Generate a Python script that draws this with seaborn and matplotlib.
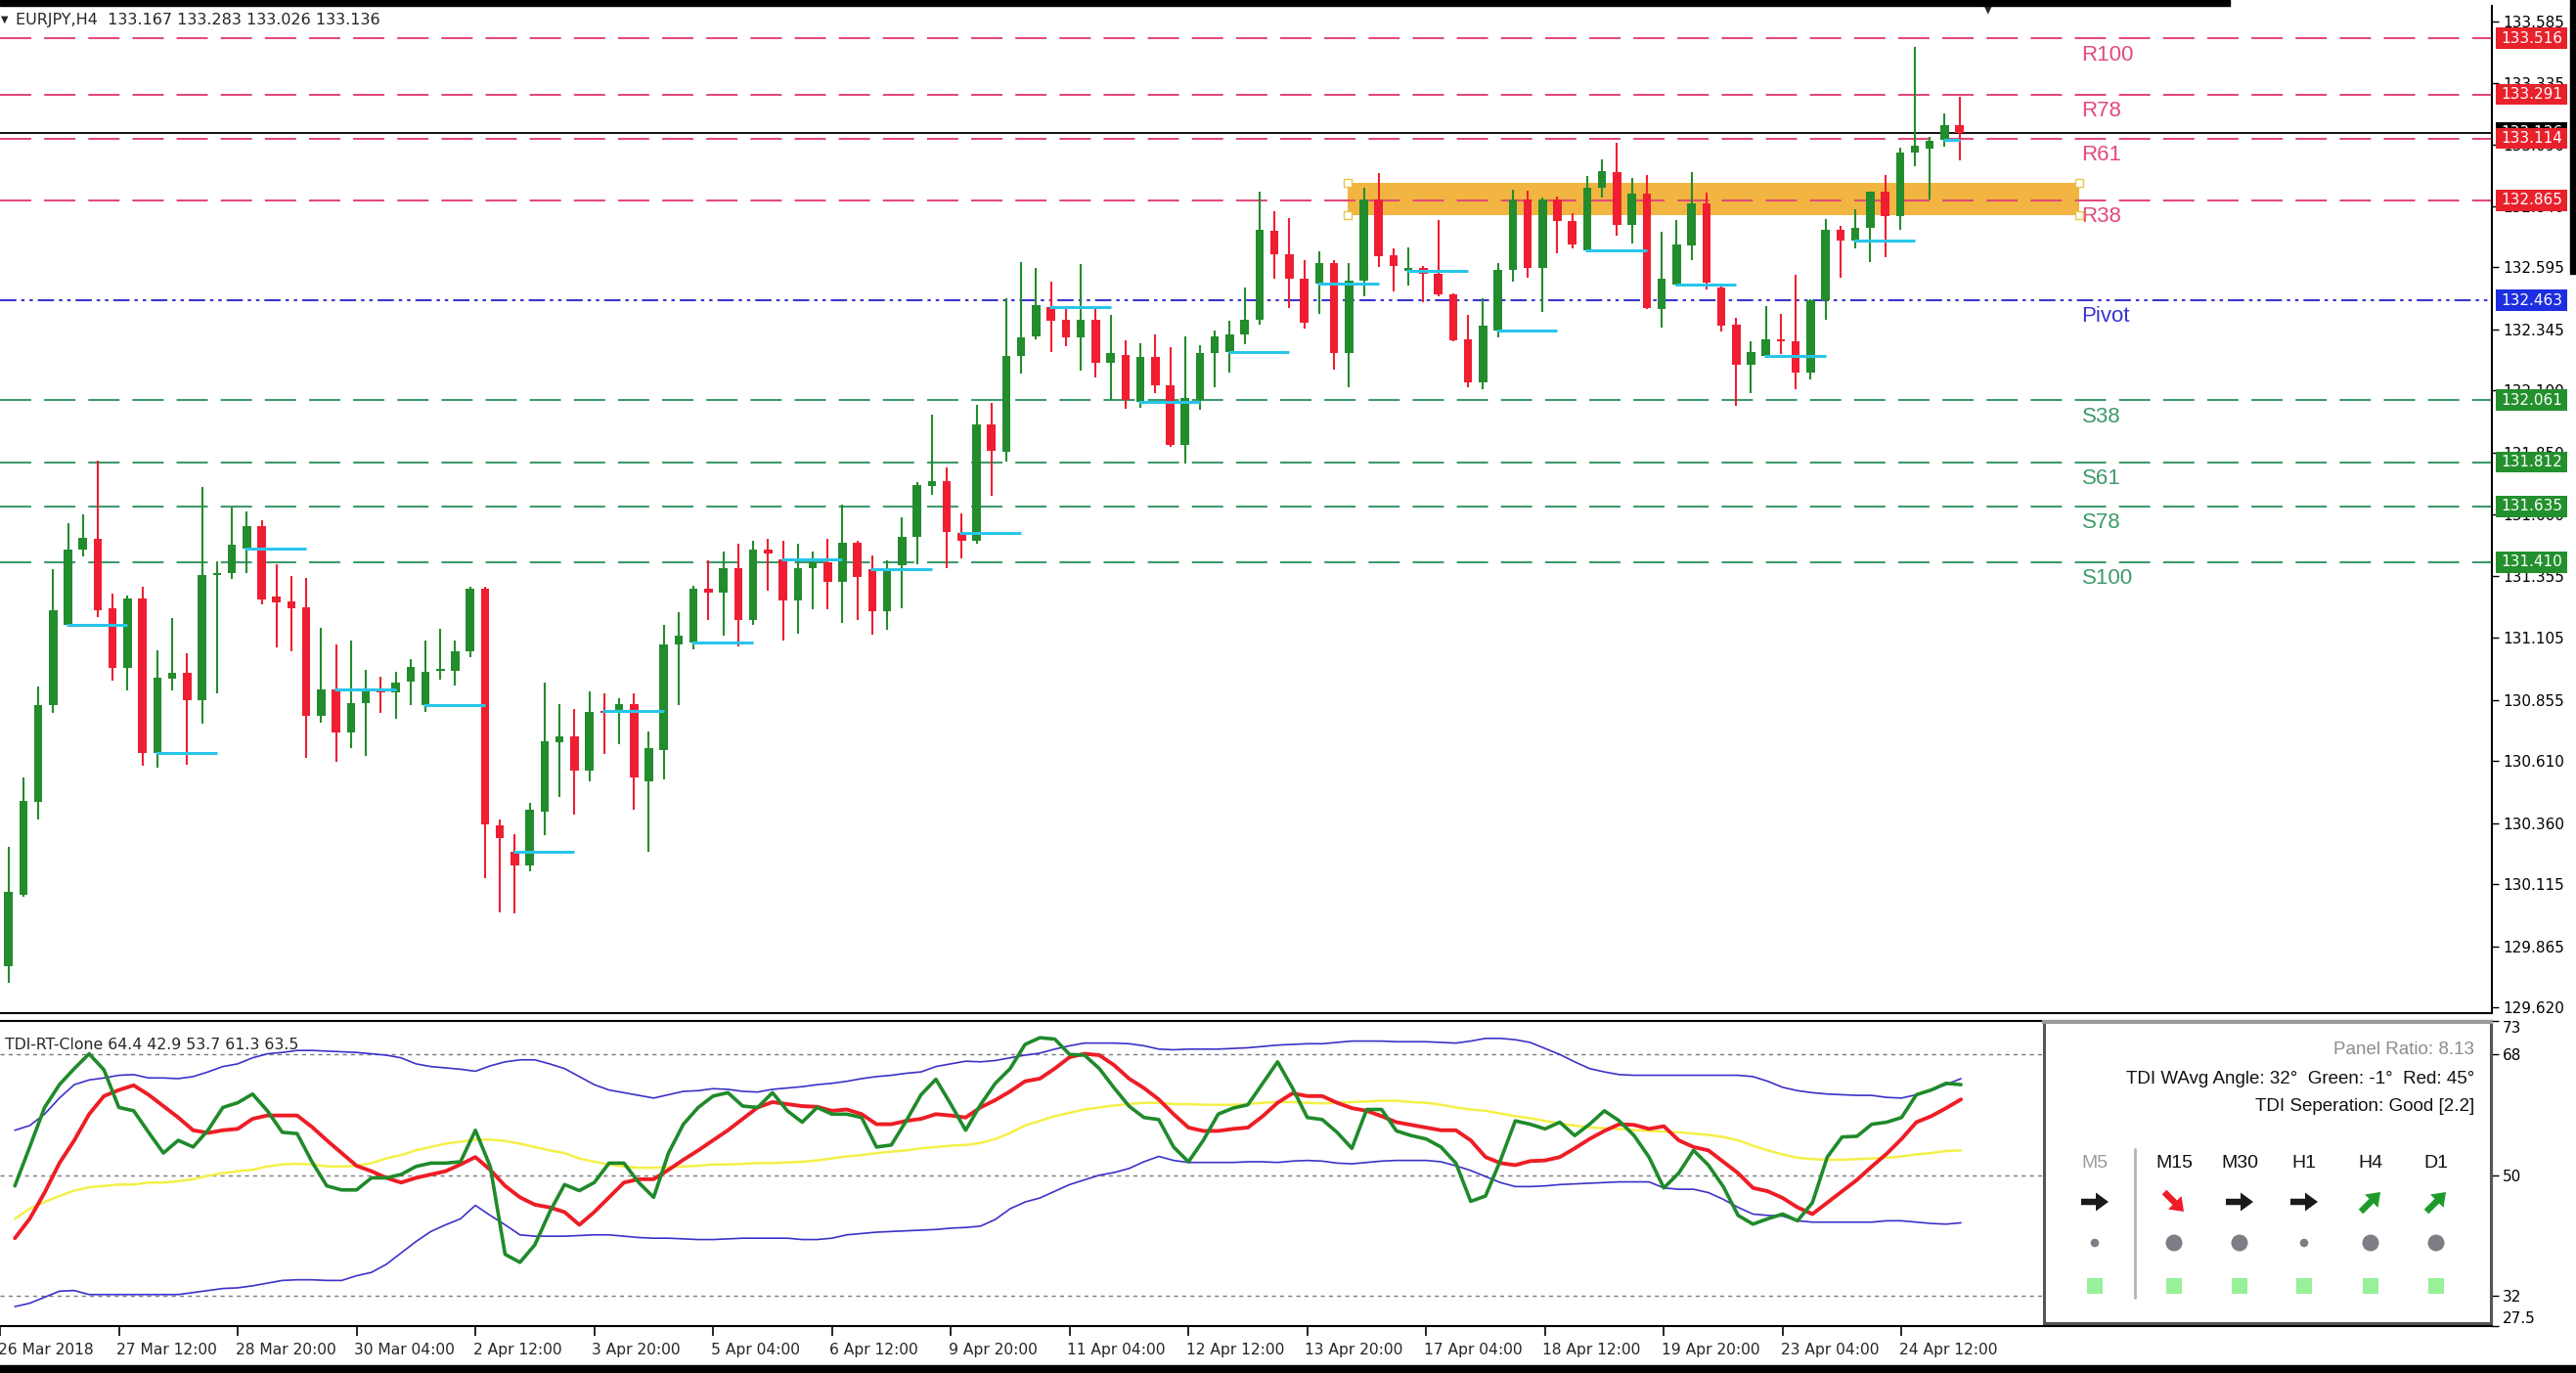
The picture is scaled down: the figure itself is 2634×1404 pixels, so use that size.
import numpy as np
import pandas as pd
import matplotlib
matplotlib.use("Agg")
import matplotlib.pyplot as plt
import seaborn as sns
from matplotlib.patches import Rectangle, FancyArrow
from matplotlib import transforms

sns.set_theme(style="white")
plt.rcParams['font.family'] = ['DejaVu Sans']
plt.rcParams['lines.scale_dashes'] = False

# ------------------------------------------------------------------
# Data: EURJPY H4 candles (bar 1 = 26 Mar 08:00 ... bar 132 = 25 Apr 04:00)
# ------------------------------------------------------------------
bars = np.arange(1, 133)

opens = [129.784, 130.072, 130.447, 130.833, 131.157, 131.461, 131.502, 131.226, 130.984, 131.264,
         130.641, 130.940, 130.965, 130.853, 131.359, 131.364, 131.466, 131.556, 131.272, 131.252,
         131.228, 130.792, 130.899, 130.726, 130.841, 130.899, 130.886, 130.928, 130.833, 130.973,
         130.973, 131.052, 131.302, 130.351, 130.245, 130.190, 130.408, 130.685, 130.709, 130.573,
         130.812, 130.808, 130.838, 130.528, 130.655, 131.080, 131.088, 131.303, 131.286, 131.385,
         131.179, 131.459, 131.421, 131.256, 131.385, 131.410, 131.331, 131.489, 131.380, 131.212,
         131.398, 131.512, 131.715, 131.736, 131.528, 131.497, 131.962, 131.855, 132.240, 132.319,
         132.435, 132.384, 132.314, 132.384, 132.210, 132.243, 132.054, 132.235, 132.120, 131.880,
         132.062, 132.251, 132.256, 132.326, 132.386, 132.741, 132.649, 132.551, 132.530, 132.613,
         132.251, 132.541, 132.870, 132.643, 132.580, 132.591, 132.571, 132.485, 132.306, 132.132,
         132.343, 132.585, 132.870, 132.591, 132.870, 132.782, 132.663, 132.917, 132.978, 132.766,
         132.890, 132.426, 132.525, 132.684, 132.854, 132.513, 132.364, 132.203, 132.240, 132.306,
         132.298, 132.173, 132.464, 132.746, 132.704, 132.754, 132.898, 132.800, 133.058, 133.074,
         133.110, 133.167]
highs = [130.263, 130.545, 130.910, 131.380, 131.568, 131.602, 131.819, 131.282, 131.277, 131.310,
         131.055, 131.183, 131.042, 131.711, 131.413, 131.630, 131.614, 131.578, 131.400, 131.356,
         131.348, 131.145, 131.080, 131.096, 130.976, 130.948, 130.970, 131.019, 131.096, 131.142,
         131.096, 131.310, 131.310, 130.376, 130.314, 130.442, 130.927, 130.838, 130.821, 130.891,
         130.882, 130.861, 130.882, 130.729, 131.159, 131.209, 131.314, 131.418, 131.454, 131.484,
         131.497, 131.505, 131.497, 131.484, 131.451, 131.505, 131.640, 131.495, 131.438, 131.418,
         131.591, 131.731, 132.003, 131.789, 131.604, 132.044, 132.052, 132.472, 132.618, 132.593,
         132.538, 132.430, 132.609, 132.435, 132.405, 132.303, 132.289, 132.326, 132.273, 132.319,
         132.281, 132.342, 132.381, 132.513, 132.898, 132.823, 132.795, 132.626, 132.658, 132.624,
         132.613, 132.915, 132.974, 132.671, 132.674, 132.600, 132.784, 132.490, 132.405, 132.472,
         132.613, 132.908, 132.903, 132.878, 132.880, 132.812, 132.961, 133.031, 133.097, 132.956,
         132.965, 132.737, 132.784, 132.978, 132.895, 132.522, 132.394, 132.298, 132.439, 132.409,
         132.566, 132.469, 132.790, 132.762, 132.829, 132.900, 132.965, 133.077, 133.480, 133.120,
         133.216, 133.283]
lows = [129.718, 130.065, 130.373, 130.805, 131.149, 131.431, 131.187, 130.932, 130.894, 130.590,
        130.583, 130.894, 130.595, 130.762, 130.882, 131.343, 131.364, 131.241, 131.068, 131.052,
        130.623, 130.764, 130.608, 130.660, 130.631, 130.803, 130.780, 130.833, 130.808, 130.937,
        130.915, 131.027, 130.139, 130.000, 129.997, 130.166, 130.311, 130.467, 130.393, 130.528,
        130.638, 130.676, 130.413, 130.245, 130.536, 130.836, 131.060, 131.176, 131.113, 131.069,
        131.159, 131.294, 131.093, 131.121, 131.220, 131.220, 131.167, 131.179, 131.118, 131.136,
        131.223, 131.401, 131.682, 131.385, 131.426, 131.484, 131.675, 131.813, 132.170, 132.306,
        132.253, 132.278, 132.181, 132.152, 132.062, 132.027, 132.032, 132.090, 131.875, 131.805,
        132.024, 132.112, 132.173, 132.286, 132.364, 132.550, 132.430, 132.351, 132.410, 132.185,
        132.115, 132.477, 132.596, 132.497, 132.522, 132.455, 132.480, 132.298, 132.115, 132.104,
        132.314, 132.538, 132.555, 132.417, 132.651, 132.671, 132.655, 132.878, 132.721, 132.691,
        132.426, 132.353, 132.522, 132.625, 132.505, 132.339, 132.037, 132.090, 132.231, 132.248,
        132.107, 132.144, 132.386, 132.555, 132.671, 132.618, 132.635, 132.746, 133.003, 132.868,
        133.080, 133.026]
closes = [130.082, 130.450, 130.836, 131.216, 131.461, 131.507, 131.216, 130.984, 131.264, 130.641,
          130.945, 130.965, 130.853, 131.359, 131.367, 131.479, 131.556, 131.260, 131.249, 131.224,
          130.792, 130.899, 130.726, 130.841, 130.899, 130.886, 130.924, 130.989, 130.970, 130.982,
          131.052, 131.302, 130.356, 130.299, 130.190, 130.413, 130.690, 130.709, 130.573, 130.808,
          130.803, 130.838, 130.545, 130.660, 131.077, 131.116, 131.303, 131.286, 131.385, 131.179,
          131.459, 131.443, 131.256, 131.385, 131.410, 131.331, 131.489, 131.349, 131.212, 131.380,
          131.512, 131.718, 131.736, 131.530, 131.497, 131.962, 131.858, 132.240, 132.314, 132.442,
          132.381, 132.314, 132.384, 132.210, 132.251, 132.062, 132.235, 132.120, 131.880, 132.069,
          132.251, 132.317, 132.326, 132.386, 132.746, 132.649, 132.551, 132.372, 132.613, 132.251,
          132.541, 132.870, 132.641, 132.600, 132.591, 132.571, 132.485, 132.303, 132.132, 132.362,
          132.585, 132.870, 132.591, 132.870, 132.782, 132.688, 132.917, 132.983, 132.766, 132.890,
          132.430, 132.550, 132.688, 132.854, 132.535, 132.361, 132.203, 132.256, 132.306, 132.298,
          132.173, 132.464, 132.746, 132.704, 132.754, 132.898, 132.800, 133.058, 133.086, 133.105,
          133.167, 133.136]

# bars that open a new trading day (00:00)
day_start_bars = [5, 11, 17, 23, 29, 35, 41, 47, 53, 59, 65, 71, 77, 83, 89, 95,
                  101, 107, 113, 119, 125, 131]

# Fibonacci pivot levels
level_names = ["R100", "R78", "R61", "R38", "Pivot", "S38", "S61", "S78", "S100"]
level_values = [133.516, 133.291, 133.114, 132.865, 132.463, 132.061, 131.812, 131.635, 131.410]

# supply zone rectangle (bar range, price range)
zone_bars = (90.9, 140.0)
zone_prices = (132.805, 132.935)

price_ticks = [129.620, 129.865, 130.115, 130.360, 130.610, 130.855, 131.105, 131.355, 131.600,
               131.850, 132.100, 132.345, 132.595, 132.840, 133.090, 133.335, 133.585]

xlabel_bars = [0, 8, 16, 24, 32, 40, 48, 56, 64, 72, 80, 88, 96, 104, 112, 120, 128]
xlabel_text = ["26 Mar 2018", "27 Mar 12:00", "28 Mar 20:00", "30 Mar 04:00", "2 Apr 12:00",
               "3 Apr 20:00", "5 Apr 04:00", "6 Apr 12:00", "9 Apr 20:00", "11 Apr 04:00",
               "12 Apr 12:00", "13 Apr 20:00", "17 Apr 04:00", "18 Apr 12:00", "19 Apr 20:00",
               "23 Apr 04:00", "24 Apr 12:00"]

# TDI indicator lines
tdi_green = [48.4, 54.2, 60.1, 63.5, 65.9, 68.1, 65.7, 60.1, 59.6, 56.4,
             53.3, 55.2, 54.2, 56.7, 60.1, 60.8, 62.1, 59.6, 56.4, 56.2,
             52.0, 48.4, 47.8, 47.8, 49.6, 49.6, 50.1, 51.3, 51.8, 51.8,
             52.0, 56.7, 51.3, 38.2, 37.0, 39.6, 44.5, 48.6, 47.7, 48.9,
             51.8, 51.8, 48.9, 46.7, 53.3, 57.6, 60.1, 61.8, 62.3, 60.3,
             60.1, 62.3, 59.6, 57.9, 60.1, 59.1, 59.1, 58.6, 54.2, 54.5,
             58.1, 62.0, 64.3, 60.6, 56.7, 60.5, 63.7, 65.9, 69.5, 70.5,
             70.3, 68.0, 67.9, 65.9, 63.0, 60.3, 58.6, 58.3, 54.2, 52.0,
             55.2, 59.1, 60.0, 60.5, 63.7, 66.9, 63.0, 58.6, 58.3, 56.4,
             54.0, 59.8, 59.8, 56.6, 55.9, 55.4, 54.2, 51.8, 46.1, 46.9,
             52.2, 58.1, 57.6, 56.9, 57.9, 55.9, 57.6, 59.6, 58.1, 55.9,
             52.7, 48.1, 50.3, 53.7, 51.5, 48.3, 44.0, 42.7, 43.5, 44.2,
             43.2, 45.9, 52.7, 55.7, 55.8, 57.6, 57.9, 58.6, 62.0, 62.7,
             63.7, 63.5]
tdi_red = [40.6, 43.5, 47.4, 51.8, 55.2, 59.1, 61.8, 62.7, 63.4, 62.0,
           60.3, 58.6, 56.7, 56.3, 56.7, 56.9, 58.4, 58.9, 58.9, 58.9,
           57.2, 55.2, 53.3, 51.4, 50.6, 49.6, 48.9, 49.6, 50.1, 50.6,
           51.6, 52.7, 50.8, 48.4, 46.7, 45.6, 45.2, 44.5, 42.6, 44.5,
           46.7, 48.9, 49.4, 49.4, 50.8, 52.3, 53.7, 55.2, 56.7, 58.4,
           60.1, 60.9, 60.6, 60.3, 60.2, 59.6, 59.8, 59.1, 57.6, 57.6,
           58.1, 58.4, 59.1, 58.9, 58.6, 60.1, 61.2, 62.5, 64.0, 64.4,
           65.9, 67.6, 68.1, 67.9, 66.4, 64.4, 63.0, 61.3, 59.1, 57.1,
           56.6, 56.6, 56.9, 57.1, 58.8, 60.8, 62.2, 61.8, 61.8, 60.8,
           60.0, 59.6, 58.8, 57.9, 57.5, 57.1, 56.7, 56.7, 55.2, 52.7,
           51.8, 51.5, 52.1, 52.2, 52.7, 54.0, 55.4, 56.6, 57.6, 57.5,
           56.9, 57.3, 55.2, 54.2, 53.7, 52.0, 50.3, 48.1, 47.6, 46.6,
           45.2, 44.2, 45.9, 47.6, 49.3, 51.3, 53.2, 55.4, 57.9, 58.8,
           60.0, 61.3]
tdi_yellow = [43.5, 45.0, 46.0, 46.9, 47.7, 48.2, 48.4, 48.6, 48.6, 48.9,
              48.9, 49.1, 49.4, 49.9, 50.3, 50.6, 50.8, 51.3, 51.6, 51.7,
              51.6, 51.3, 51.3, 51.4, 51.8, 52.5, 53.0, 53.7, 54.2, 54.7,
              55.0, 55.3, 55.3, 55.1, 54.7, 54.2, 53.7, 53.3, 52.5, 52.0,
              51.6, 51.3, 51.1, 51.1, 51.2, 51.3, 51.4, 51.6, 51.6, 51.7,
              51.8, 51.8, 51.9, 52.0, 52.2, 52.5, 52.8, 53.0, 53.3, 53.5,
              53.7, 54.0, 54.2, 54.4, 54.5, 54.8, 55.4, 56.3, 57.4, 58.1,
              58.8, 59.3, 59.8, 60.1, 60.4, 60.6, 60.8, 60.8, 60.6, 60.6,
              60.5, 60.5, 60.5, 60.6, 60.8, 60.9, 60.9, 60.8, 60.7, 60.8,
              60.9, 61.0, 61.1, 61.1, 60.9, 60.8, 60.5, 60.1, 59.8, 59.6,
              59.2, 58.8, 58.5, 58.1, 57.7, 57.4, 57.1, 57.0, 56.9, 56.7,
              56.6, 56.5, 56.4, 56.2, 56.0, 55.7, 55.2, 54.4, 53.7, 53.1,
              52.6, 52.4, 52.3, 52.3, 52.4, 52.5, 52.6, 52.8, 53.1, 53.3,
              53.6, 53.7]
tdi_upper = [56.7, 57.4, 59.1, 61.5, 63.5, 64.2, 64.5, 64.9, 65.0, 64.5,
             64.5, 64.4, 64.7, 65.4, 66.2, 66.6, 67.5, 68.1, 68.3, 68.6,
             68.6, 68.5, 68.4, 68.3, 68.1, 67.9, 67.5, 66.6, 66.2, 66.0,
             65.8, 65.5, 66.3, 66.9, 67.2, 67.2, 66.6, 65.9, 64.7, 63.5,
             62.7, 62.3, 61.9, 61.5, 62.0, 62.5, 62.6, 62.9, 62.8, 62.5,
             62.4, 62.8, 63.0, 63.2, 63.5, 63.7, 64.0, 64.4, 64.7, 64.9,
             65.2, 65.4, 66.2, 66.6, 67.0, 66.9, 67.1, 67.5, 67.9, 68.2,
             68.8, 69.3, 69.7, 69.7, 69.7, 69.6, 69.3, 68.8, 68.7, 68.8,
             68.8, 68.8, 68.9, 69.0, 69.2, 69.4, 69.5, 69.6, 69.6, 69.8,
             70.0, 70.0, 70.0, 69.9, 69.9, 69.9, 69.8, 69.7, 70.0, 70.4,
             70.4, 70.2, 69.8, 68.9, 68.0, 66.9, 65.9, 65.4, 65.0, 64.9,
             64.9, 64.9, 64.9, 64.9, 64.9, 64.9, 64.9, 64.7, 64.0, 63.1,
             62.6, 62.3, 62.1, 62.0, 61.9, 61.9, 61.6, 61.5, 62.0, 62.7,
             63.5, 64.4]
tdi_lower = [30.4, 30.9, 31.8, 32.7, 32.8, 32.2, 32.2, 32.2, 32.2, 32.2,
             32.2, 32.2, 32.5, 32.8, 33.1, 33.2, 33.5, 33.9, 34.3, 34.4,
             34.4, 34.3, 34.3, 35.0, 35.5, 36.7, 38.4, 40.1, 41.6, 42.6,
             43.5, 45.5, 44.0, 42.6, 41.1, 40.9, 40.9, 40.9, 41.0, 41.1,
             41.1, 40.9, 40.7, 40.6, 40.6, 40.5, 40.4, 40.4, 40.5, 40.6,
             40.6, 40.6, 40.6, 40.4, 40.4, 40.6, 41.1, 41.3, 41.5, 41.6,
             41.7, 41.8, 41.9, 42.1, 42.2, 42.4, 43.4, 45.0, 46.0, 46.6,
             47.6, 48.6, 49.3, 50.0, 50.4, 51.0, 52.0, 52.8, 52.2, 51.9,
             51.9, 51.9, 51.9, 52.0, 52.0, 51.9, 52.1, 52.2, 52.1, 51.8,
             51.7, 51.9, 52.1, 52.2, 52.2, 52.2, 52.0, 51.4, 50.7, 49.8,
             48.9, 48.3, 48.3, 48.4, 48.6, 48.7, 48.8, 48.9, 49.0, 49.0,
             49.0, 48.1, 47.9, 47.9, 47.4, 46.4, 45.2, 44.2, 44.0, 43.9,
             43.2, 43.0, 43.0, 43.0, 43.0, 43.0, 43.2, 43.2, 43.0, 42.8,
             42.7, 42.9]
tdi_levels = [68, 50, 32]
tdi_ticks = [73, 68, 50, 32, 27.5]

# multi-timeframe dashboard
tf_names = ["M5", "M15", "M30", "H1", "H4", "D1"]
tf_direction = ["flat", "down", "flat", "flat", "up", "up"]
tf_strength = ["small", "big", "big", "small", "big", "big"]
panel_ratio = 8.13
wavg_angle, green_angle, red_angle = 32, -1, 45
separation = ("Good", 2.2)

# ------------------------------------------------------------------
# Styles
# ------------------------------------------------------------------
GREEN = "#238c2d"
RED = "#f01e32"
R_COL = "#e34a78"
S_COL = "#3d9a6a"
P_COL = "#3a34d0"
CYAN = "#29c5ea"
ZONE = "#f2b541"

W, H = 2634, 1404


def fx(px):
    return px / W


def fy(py):
    return 1 - py / H


fig = plt.figure(figsize=(W / 100, H / 100), dpi=100)
fig.patch.set_facecolor("white")

ax = fig.add_axes([0, fy(1036), fx(2548), (1036 - 6) / H])
ax_ind = fig.add_axes([0, fy(1356), fx(2548), (1356 - 1044) / H])

XMIN, XMAX = 0.435, 167.74

# ------------------------------------------------------------------
# Main price panel
# ------------------------------------------------------------------
o = np.array(opens); hi = np.array(highs); lo = np.array(lows); c = np.array(closes)
cols = np.where(c >= o, GREEN, RED)

ax.add_patch(Rectangle((zone_bars[0], zone_prices[0]), zone_bars[1] - zone_bars[0],
                       zone_prices[1] - zone_prices[0], facecolor=ZONE, edgecolor="none", zorder=1))
for zx in zone_bars:
    for zy in zone_prices:
        ax.scatter([zx], [zy], marker="s", s=28, facecolor="white", edgecolor="#e6c84a",
                   linewidth=1, zorder=6)

for name, val in zip(level_names, level_values):
    if name.startswith("R"):
        col, ls = R_COL, (0, (23, 9.5))
    elif name.startswith("S"):
        col, ls = S_COL, (0, (23, 9.5))
    else:
        col, ls = P_COL, (0, (12, 3.6, 2.5, 3.6, 2.5, 3.6))
    ax.axhline(val, color=col, lw=1.5, ls=ls, zorder=2)
    ax.text(140.2, val - 0.066, name, color=col, fontsize=16, family="Liberation Sans",
            ha="left", va="center", zorder=3)

ax.axhline(closes[-1], color="black", lw=1.3, zorder=3)

ax.vlines(bars, lo, hi, colors=cols, lw=1.5, zorder=4)
ax.bar(bars, np.maximum(np.abs(c - o), 0.005), bottom=np.minimum(o, c), width=0.56,
       color=cols, linewidth=0, zorder=5)

for b in day_start_bars:
    ax.hlines(opens[b - 1], b - 0.12, min(b + 4, bars[-1]), colors=CYAN, lw=2.2, zorder=6)

ax.set_xlim(XMIN, XMAX)
ax.set_ylim(129.596, 133.647)
ax.yaxis.tick_right()
ax.set_yticks(price_ticks)
ax.set_yticklabels([f"{v:.3f}" for v in price_ticks], fontsize=11)
ax.tick_params(axis="y", length=5, width=1, pad=3, colors="black", right=True, left=False)
ax.tick_params(axis="x", bottom=False, labelbottom=False)
for side in ["top", "left"]:
    ax.spines[side].set_visible(False)
for side in ["right", "bottom"]:
    ax.spines[side].set_color("black")
    ax.spines[side].set_linewidth(1.5)

# price boxes on the right axis
btrans = transforms.blended_transform_factory(ax.transAxes, ax.transData)
box_h = 0.086


def price_box(val, face, z):
    ax.add_patch(Rectangle((1.0016, val - box_h / 2), 0.0285, box_h, transform=btrans,
                           facecolor=face, edgecolor="none", clip_on=False, zorder=z))
    ax.text(1.0016 + 0.01425, val, f"{val:.3f}", transform=btrans, color="white",
            fontsize=11, ha="center", va="center", clip_on=False, zorder=z + 0.5)


price_box(closes[-1], "black", 10)
for name, val in zip(level_names, level_values):
    face = "#e8212b" if name.startswith("R") else ("#23902d" if name.startswith("S") else "#1d2ee0")
    price_box(val, face, 11)

ax.text(0.0002, 0.9864, "\u25bc", transform=ax.transAxes, fontsize=7, ha="left", va="center")
ax.text(16 / 2548, 0.9864, f"EURJPY,H4  {opens[-1]:.3f} {highs[-1]:.3f} {lows[-1]:.3f} {closes[-1]:.3f}",
        transform=ax.transAxes, fontsize=11.5, ha="left", va="center")

# ------------------------------------------------------------------
# TDI indicator panel
# ------------------------------------------------------------------
tdi = pd.DataFrame({"bar": bars, "green": tdi_green, "red": tdi_red, "yellow": tdi_yellow,
                    "upper": tdi_upper, "lower": tdi_lower})

for lv in tdi_levels:
    ax_ind.axhline(lv, color="#7a7a7a", lw=1.0, ls=(0, (3, 3)), zorder=1)

sns.lineplot(data=tdi, x="bar", y="upper", ax=ax_ind, color="#3c32c8", lw=1.2, zorder=2)
sns.lineplot(data=tdi, x="bar", y="lower", ax=ax_ind, color="#3c32c8", lw=1.2, zorder=2)
sns.lineplot(data=tdi, x="bar", y="yellow", ax=ax_ind, color="#f4f048", lw=1.8, zorder=3)
sns.lineplot(data=tdi, x="bar", y="red", ax=ax_ind, color="#ee1d25", lw=2.8, zorder=4)
sns.lineplot(data=tdi, x="bar", y="green", ax=ax_ind, color="#1f8a2a", lw=2.6, zorder=5)
ax_ind.set_xlabel("")
ax_ind.set_ylabel("")

ax_ind.set_xlim(XMIN, XMAX)
ax_ind.set_ylim(27.5, 73)
ax_ind.yaxis.tick_right()
ax_ind.set_yticks(tdi_ticks)
ax_ind.set_yticklabels([f"{t:g}" for t in tdi_ticks], fontsize=11)
ylabels = ax_ind.get_yticklabels()
ylabels[0].set_verticalalignment("top")
ylabels[-1].set_verticalalignment("bottom")
ax_ind.tick_params(axis="y", length=5, width=1, pad=3, colors="black", right=True, left=False)
ax_ind.set_xticks(xlabel_bars)
ax_ind.tick_params(axis="x", bottom=True, length=7, width=1.2, direction="out",
                   labelbottom=False, colors="black")
ax_ind.spines["left"].set_visible(False)
for side in ["top", "right", "bottom"]:
    ax_ind.spines[side].set_color("black")
    ax_ind.spines[side].set_linewidth(1.5)

xtrans = transforms.blended_transform_factory(ax_ind.transData, ax_ind.transAxes)
for b, t in zip(xlabel_bars, xlabel_text):
    ax_ind.text(b - 0.15, -0.077, t, transform=xtrans, fontsize=11.2, ha="left", va="center",
                clip_on=False)

ax_ind.text(5 / 2548, 0.923,
            f"TDI-RT-Clone {tdi_upper[-1]:.1f} {tdi_lower[-1]:.1f} {tdi_yellow[-1]:.1f} "
            f"{tdi_red[-1]:.1f} {tdi_green[-1]:.1f}",
            transform=ax_ind.transAxes, fontsize=11.3, ha="left", va="center")

# ------------------------------------------------------------------
# Dashboard panel
# ------------------------------------------------------------------
pan = fig.add_axes([fx(2090), fy(1353), 457 / W, 308 / H])
pan.set_facecolor("white")
pan.set_xlim(0, 457)
pan.set_ylim(308, 0)
pan.set_xticks([])
pan.set_yticks([])
pan.spines["top"].set_color("#9a9a9a"); pan.spines["top"].set_linewidth(3)
for side in ["left", "bottom", "right"]:
    pan.spines[side].set_color("#555555")
    pan.spines[side].set_linewidth(2.2)

pf = "Liberation Sans"
pan.text(440, 28, f"Panel Ratio: {panel_ratio:.2f}", color="#8c8c8c", fontsize=13.5,
         family=pf, ha="right", va="center")
pan.text(440, 58, f"TDI WAvg Angle: {wavg_angle}\u00b0  Green: {green_angle}\u00b0  Red: {red_angle}\u00b0",
         color="#111111", fontsize=13.5, family=pf, ha="right", va="center")
pan.text(440, 86, f"TDI Seperation: {separation[0]} [{separation[1]}]", color="#111111",
         fontsize=13.5, family=pf, ha="right", va="center")

tf_x = [52, 133, 200, 266, 334, 401]
# arrow vectors in panel pixels (y grows downward)
arrow_style = {"flat": ((-14, 0), (28, 0), "#1a1a1a"),
               "down": ((-10, -10), (20, 20), "#f01c28"),
               "up": ((-10, 10), (20, -20), "#1e9a2a")}
pan.plot([93, 93], [130, 282], color="#b4b4b4", lw=2)
for x, name, d, s in zip(tf_x, tf_names, tf_direction, tf_strength):
    pan.text(x, 144, name, color="#9a9aa0" if name == "M5" else "#111111", fontsize=14,
             family=pf, ha="center", va="center")
    (sx, sy), (dx, dy), acol = arrow_style[d]
    pan.add_patch(FancyArrow(x + sx, 184 + sy, dx, dy, width=6.5, head_width=19,
                             head_length=13, length_includes_head=True,
                             color=acol, linewidth=0))
    pan.scatter([x], [226], s=150 if s == "big" else 38, color="#7d7d85", edgecolor="none")
    pan.scatter([x], [270], s=140, marker="s", color="#98f098", edgecolor="none")

# ------------------------------------------------------------------
# Scan borders
# ------------------------------------------------------------------
fig.patches.append(Rectangle((0, fy(6)), fx(2280), 6 / H, transform=fig.transFigure,
                             color="black", zorder=20))
fig.patches.append(Rectangle((0, 0), 1, 8 / H, transform=fig.transFigure,
                             color="black", zorder=20))
fig.patches.append(Rectangle((fx(2628), fy(280)), fx(6), 280 / H, transform=fig.transFigure,
                             color="black", zorder=20))
fig.text(fx(2033), fy(9), "\u25bc", fontsize=9, ha="center", va="center")

fig.savefig("out.png", dpi=100, facecolor="white")
